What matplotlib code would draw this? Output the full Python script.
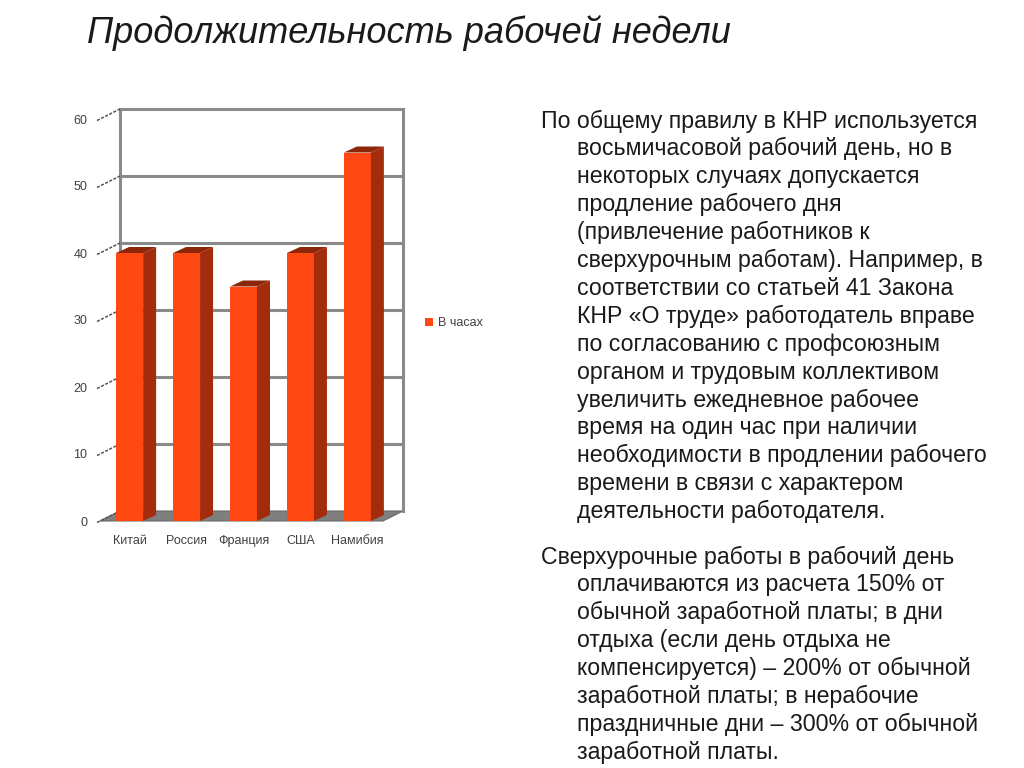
import matplotlib
matplotlib.use("Agg")
import matplotlib.pyplot as plt
from matplotlib.patches import Polygon

plt.rcParams['font.family'] = ['Liberation Sans', 'DejaVu Sans']

# ---- data ----
categories = ["Китай", "Россия", "Франция", "США", "Намибия"]
hours = [40, 40, 35, 40, 55]
series_name = "В часах"
y_ticks = [0, 10, 20, 30, 40, 50, 60]

title = "Продолжительность рабочей недели"
para1 = ["По общему правилу в КНР используется",
         "восьмичасовой рабочий день, но в",
         "некоторых случаях допускается",
         "продление рабочего дня",
         "(привлечение работников к",
         "сверхурочным работам). Например, в",
         "соответствии со статьей 41 Закона",
         "КНР «О труде» работодатель вправе",
         "по согласованию с профсоюзным",
         "органом и трудовым коллективом",
         "увеличить ежедневное рабочее",
         "время на один час при наличии",
         "необходимости в продлении рабочего",
         "времени в связи с характером",
         "деятельности работодателя."]
para2 = ["Сверхурочные работы в рабочий день",
         "оплачиваются из расчета 150% от",
         "обычной заработной платы; в дни",
         "отдыха (если день отдыха не",
         "компенсируется) – 200% от обычной",
         "заработной платы; в нерабочие",
         "праздничные дни – 300% от обычной",
         "заработной платы."]

W, H = 1024, 768
fig = plt.figure(figsize=(W / 100, H / 100), dpi=100)
fig.patch.set_facecolor("white")

def fx(px):
    return px / W

def fy(py):
    return 1 - py / H

# axes (front plane)
left_px, right_px, top_px, bot_px = 100, 383, 119, 521
ax = fig.add_axes([fx(left_px), fy(bot_px), (right_px - left_px) / W, (bot_px - top_px) / H])
xmin, xmax = -0.52, 4.45
ymin, ymax = 0, 60
ax.set_xlim(xmin, xmax)
ax.set_ylim(ymin, ymax)
for s in ax.spines.values():
    s.set_visible(False)
ax.set_facecolor("none")

pxu_x = (right_px - left_px) / (xmax - xmin)
pxu_y = (bot_px - top_px) / (ymax - ymin)
WX, WY = 20 / pxu_x, 10 / pxu_y      # wall depth
BX, BY = 13 / pxu_x, 6 / pxu_y       # bar depth

grid_c = "#8a8a8a"
# floor
ax.add_patch(Polygon([(xmin, 0), (xmax, 0), (xmax + WX, WY), (xmin + WX, WY)],
                     closed=True, facecolor="#7f7f7f", edgecolor="#6a6a6a",
                     lw=0.8, clip_on=False, zorder=1))
# back wall gridlines
for v in y_ticks[1:]:
    ax.plot([xmin + WX, xmax + WX], [v + WY, v + WY], color=grid_c, lw=2.2,
            clip_on=False, zorder=1, solid_capstyle="butt")
# back wall vertical edges
for xv in (xmin + WX, xmax + WX):
    ax.plot([xv, xv], [WY, ymax + WY], color=grid_c, lw=2.2, clip_on=False, zorder=1)
# left wall tick diagonals
for v in y_ticks:
    ax.plot([xmin - 3 / pxu_x, xmin + WX], [v - 1.5 / pxu_y, v + WY], color="#555555",
            lw=1.1, ls=(0, (2, 1)), clip_on=False, zorder=1)

# bars
bw = 27 / pxu_x
xs = list(range(len(categories)))
ax.bar(xs, hours, width=bw, color="#ff4812", edgecolor="none", zorder=3,
       label=series_name)
for x, v in zip(xs, hours):
    xl, xr = x - bw / 2, x + bw / 2
    ax.add_patch(Polygon([(xr, 0), (xr + BX, BY), (xr + BX, v + BY), (xr, v)],
                         closed=True, facecolor="#a32c0c", edgecolor="none",
                         zorder=3, clip_on=False))
    ax.add_patch(Polygon([(xl, v), (xr, v), (xr + BX, v + BY), (xl + BX, v + BY)],
                         closed=True, facecolor="#8c260a", edgecolor="none",
                         zorder=3, clip_on=False))

ax.set_yticks(y_ticks)
ax.set_yticklabels([str(t) for t in y_ticks])
ax.set_xticks(xs)
ax.set_xticklabels(categories)
ax.tick_params(axis="y", length=0, pad=9, labelsize=9, labelcolor="#404040")
ax.tick_params(axis="x", length=0, pad=10, labelsize=9, labelcolor="#404040")

leg = ax.legend(loc="center left", bbox_to_anchor=(fx(425), fy(323)),
                bbox_transform=fig.transFigure, frameon=False, fontsize=9,
                handlelength=0.6, handleheight=0.6, handletextpad=0.4,
                borderaxespad=0, borderpad=0)
for t in leg.get_texts():
    t.set_color("#404040")

# title
fig.text(fx(87), fy(33), title, fontsize=26, style="italic", color="#1a1a1a",
         va="center", ha="left")

# body text
fs = 16.7
lh = 27.9
y0 = 121
for i, line in enumerate(para1):
    fig.text(fx(541 if i == 0 else 577), fy(y0 + i * lh), line, fontsize=fs,
             color="#1a1a1a", va="center", ha="left")
y1 = 557
for i, line in enumerate(para2):
    fig.text(fx(541 if i == 0 else 577), fy(y1 + i * lh), line, fontsize=fs,
             color="#1a1a1a", va="center", ha="left")

fig.savefig("out.png", dpi=100)
